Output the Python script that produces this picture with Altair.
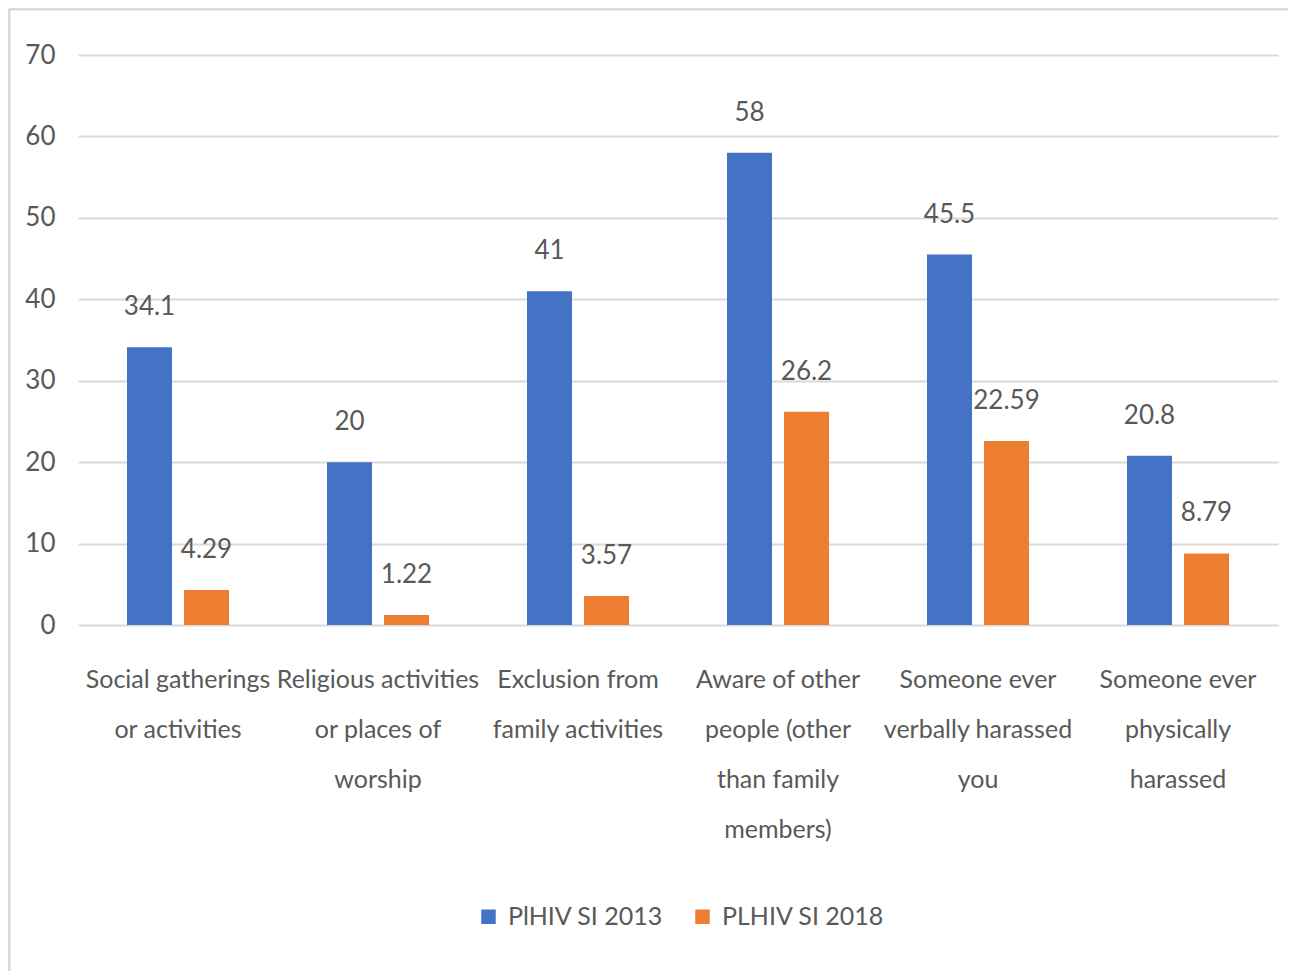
import altair as alt
import pandas as pd

categories = [
    "Social gatherings|or activities",
    "Religious activities|or places of|worship",
    "Exclusion from|family activities",
    "Aware of other|people (other|than family|members)",
    "Someone ever|verbally harassed|you",
    "Someone ever|physically|harassed",
]
series = ["PlHIV SI 2013", "PLHIV SI 2018"]
values_2013 = [34.1, 20, 41, 58, 45.5, 20.8]
values_2018 = [4.29, 1.22, 3.57, 26.2, 22.59, 8.79]
colors = ["#4472C4", "#ED7D31"]

rows = []
for c, a, b in zip(categories, values_2013, values_2018):
    rows.append({"category": c, "series": series[0], "value": a})
    rows.append({"category": c, "series": series[1], "value": b})
df = pd.DataFrame(rows)

FONT = "Lato"
GRAY = "#595959"
FS = 25

x_enc = alt.X(
    "category:N",
    sort=categories,
    scale=alt.Scale(paddingInner=0.49, paddingOuter=0.245),
    axis=alt.Axis(
        title=None,
        labelAngle=0,
        labelExpr="split(datum.label, '|')",
        labelLimit=0,
        labelOverlap=False,
        labelFontSize=FS,
        labelLineHeight=50,
        labelColor=GRAY,
        labelPadding=54,
        labelBaseline="middle",
        ticks=False,
        domain=False,
        grid=False,
    ),
)
xo_enc = alt.XOffset(
    "series:N", sort=series, scale=alt.Scale(paddingInner=0.21, paddingOuter=0)
)
y_enc = alt.Y(
    "value:Q",
    scale=alt.Scale(domain=[0, 70]),
    axis=alt.Axis(
        title=None,
        values=[0, 10, 20, 30, 40, 50, 60, 70],
        labelFontSize=26,
        labelColor=GRAY,
        labelPadding=23,
        ticks=False,
        domain=False,
        grid=True,
        gridColor="#d9d9d9",
        gridWidth=2,
    ),
)
color_enc = alt.Color(
    "series:N",
    sort=series,
    scale=alt.Scale(domain=series, range=colors),
    legend=alt.Legend(
        title=None,
        orient="none",
        direction="horizontal",
        legendX=398,
        legendY=849,
        symbolType="square",
        symbolSize=210,
        symbolStrokeWidth=0,
        labelFontSize=FS,
        labelColor=GRAY,
        labelOffset=7,
        labelLimit=400,
        columnPadding=26,
    ),
)

bars = alt.Chart(df).mark_bar().encode(x=x_enc, xOffset=xo_enc, y=y_enc, color=color_enc)
texts = alt.Chart(df).mark_text(
    baseline="alphabetic", dy=-32, fontSize=26, color=GRAY, font=FONT
).encode(
    x=alt.X("category:N", sort=categories),
    xOffset=alt.XOffset("series:N", sort=series),
    y="value:Q",
    text=alt.Text("value:Q", format="~g"),
)

blank = alt.Data(values=[{"k": 1}])
top_border = alt.Chart(blank).mark_rule(color="#d9d9d9", strokeWidth=3).encode(
    x=alt.value(-69), x2=alt.value(1210), y=alt.value(-46)
)
left_border = alt.Chart(blank).mark_rule(color="#d9d9d9", strokeWidth=3).encode(
    x=alt.value(-69), y=alt.value(-46), y2=alt.value(916)
)

chart = (
    alt.layer(bars, texts, top_border, left_border)
    .properties(
        width=1200,
        height=570,
        autosize=alt.AutoSizeParams(type="none"),
        padding={"left": 70, "top": 47, "right": 10, "bottom": 346},
    )
    .configure(font=FONT)
    .configure_view(stroke=None)
    .configure_axis(labelFont=FONT)
    .configure_legend(labelFont=FONT)
)

chart.save("out.html", embed_options={"renderer": "svg", "actions": False})
